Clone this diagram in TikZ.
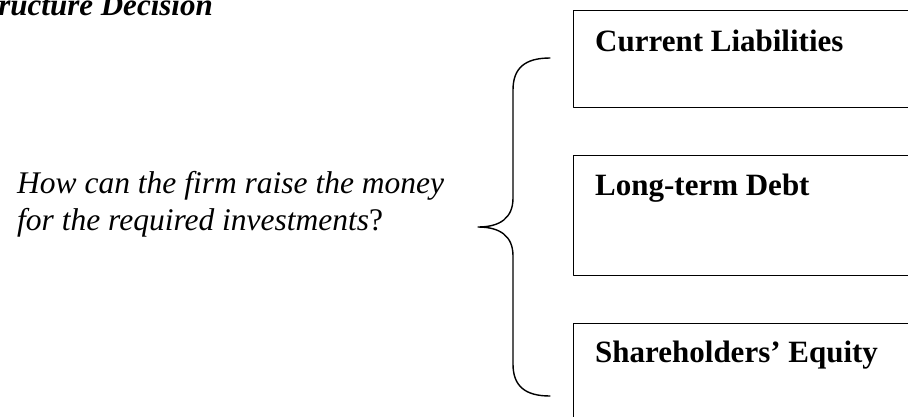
\documentclass[tikz,border=0pt]{standalone}
\usepackage{fontspec}
\setmainfont{Liberation Serif}
\begin{document}
\begin{tikzpicture}[x=1pt, y=-1pt, line join=round, line cap=round,
	box/.style={draw, line width=1.2pt, anchor=north west, minimum width=400pt, inner sep=0pt},
	head/.style={font=\fontsize{31}{36}\selectfont\bfseries, anchor=base west, inner sep=0pt},
	ask/.style={font=\fontsize{31.5}{37}\selectfont\itshape, anchor=base west, inner sep=0pt}]
	\useasboundingbox (0,0) rectangle (908,416);
	\node[font=\fontsize{31}{36}\selectfont\bfseries\itshape, anchor=base east, inner sep=0pt] (title) at (213,15) {ructure Decision};
	\node[ask] (q1) at (17,193) {How can the firm raise the money};
	\node[ask] (q2) at (17,230) {for the required investments\upshape ?};
	\foreach \n/\t/\h/\b/\s in {cl/10/97/51/Current Liabilities, ltd/155/120/195/Long-term Debt, se/323/120/362/Shareholders’ Equity}{
		\node[box, minimum height=\h pt] (\n) at (573,\t) {};
		\node[head] (\n-text) at (595,\b) {\s};
	}
	\path (478,227) coordinate (tip) (550,58) coordinate (top) (550,396) coordinate (bot);
	\draw[line width=1.4pt] (top) .. controls (525,58) and (513,68) .. (513,90) -- (513,198)
		.. controls (513,218) and (500,227) .. (tip)
		.. controls (500,227) and (513,236) .. (513,256) -- (513,364)
		.. controls (513,386) and (525,396) .. (bot);
\end{tikzpicture}
\end{document}
